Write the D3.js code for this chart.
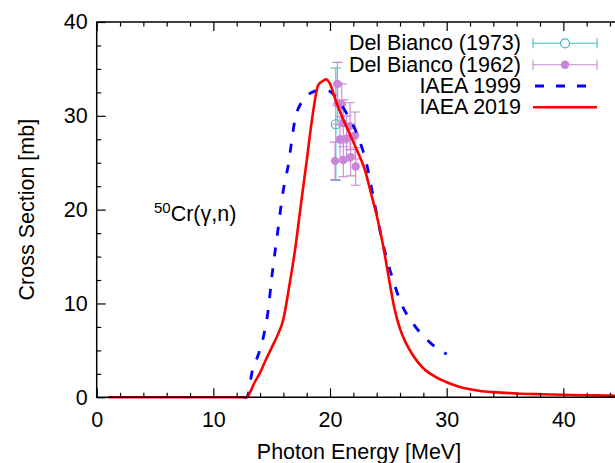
<!DOCTYPE html>
<html>
<head>
<meta charset="utf-8">
<script src="https://cdn.jsdelivr.net/npm/d3@7"></script>
<style>
  html, body { margin: 0; padding: 0; background: #fff; }
  svg { display: block; font-family: "Liberation Sans", Arial, Helvetica, sans-serif; }
</style>
</head>
<body>
<svg id="chart" width="615" height="463"></svg>
<script>
// Photoneutron cross section of 50Cr: evaluations and measurements
const seriesNames = ["Del Bianco (1973)", "Del Bianco (1962)", "IAEA 1999", "IAEA 2019"];

// Del Bianco (1973)
const db73Energy = [20.5];
const db73Sigma  = [29.1];
const db73Err    = [6.0];

// Del Bianco (1962)
const db62Energy = [20.63, 20.66, 21.0, 21.14, 21.71, 20.86, 21.43, 22.14, 20.43, 21.14, 21.77, 22.2];
const db62Sigma  = [33.4, 31.3, 31.2, 29.2, 28.9, 27.5, 27.6, 27.9, 25.2, 25.3, 25.6, 24.6];
const db62Err    = [2.3, 2.2, 2.2, 2.5, 2.5, 2.4, 2.4, 2.5, 2.0, 1.8, 2.0, 2.0];

// IAEA 1999 evaluation
const iaea1999Energy = [12.6, 12.8, 13.0, 13.3, 13.7, 14.3, 14.7, 15.0, 15.5, 16.0, 16.4, 17.0, 17.7, 18.3,
                        19.4, 20.0, 20.9, 21.4, 22.4, 23.15, 23.7, 24.4, 24.9, 25.4, 26.1, 27.1, 28.6, 30.0];
const iaea1999Sigma  = [0.0, 0.0, 0.4, 2.6, 4.0, 6.5, 9.3, 12.7, 17.5, 22.1, 24.6, 29.6, 31.7, 32.4,
                        32.8, 32.6, 31.3, 30.3, 27.8, 24.8, 21.4, 17.1, 14.6, 12.5, 10.0, 7.9, 5.8, 4.6];

// IAEA 2019 evaluation
const iaea2019Energy = [1.0, 12.8, 13.0, 13.5, 14.0, 14.5, 15.0, 15.5, 16.0, 16.5, 17.0, 17.5, 18.0, 18.5,
                        19.0, 19.5, 19.65, 20.0, 20.5, 21.0, 21.5, 22.0, 22.5, 23.0, 23.5, 24.0, 24.5,
                        25.0, 25.5, 26.0, 26.5, 27.0, 27.5, 28.0, 29.0, 30.0, 31.0, 32.0, 33.0, 34.0,
                        35.0, 36.0, 38.0, 40.0, 42.0, 44.0, 46.0, 50.0];
const iaea2019Sigma  = [0.0, 0.0, 0.2, 1.5, 2.6, 4.0, 5.3, 6.6, 8.3, 11.8, 15.7, 20.5, 25.2, 30.0,
                        33.3, 33.8, 33.9, 33.4, 31.6, 30.0, 28.6, 27.2, 25.8, 24.2, 21.8, 19.4, 16.5,
                        13.0, 9.6, 7.3, 5.8, 4.7, 3.8, 3.1, 2.2, 1.6, 1.15, 0.85, 0.65, 0.55,
                        0.47, 0.41, 0.33, 0.27, 0.22, 0.18, 0.15, 0.12];

const xTickValues = [0, 10, 20, 30, 40];
const yTickValues = [0, 10, 20, 30, 40];
const xLabel = "Photon Energy [MeV]";
const yLabel = "Cross Section [mb]";

const colors = { db73: "#3dbcc8", db62: "#c985d8", iaea1999: "#0000ff", iaea2019: "#ff0000" };
const fontSize = 21.5;

const svg = d3.select("#chart");
const plotLeft = 96.7, plotTop = 22, plotBottom = 397.3, plotRight = 680;

const x = d3.scaleLinear().domain([0, 50]).range([plotLeft, plotRight]);
const y = d3.scaleLinear().domain([0, 40]).range([plotBottom, plotTop]);

svg.append("defs").append("clipPath").attr("id", "plotArea")
  .append("rect").attr("x", plotLeft).attr("y", plotTop)
  .attr("width", plotRight - plotLeft).attr("height", plotBottom - plotTop + 2);

const plot = svg.append("g").attr("clip-path", "url(#plotArea)");

// error bars with caps
function drawErrorBars(energy, sigma, err, color) {
  const g = plot.append("g").attr("stroke", color).attr("stroke-width", 1.1).attr("fill", "none");
  energy.forEach((e, i) => {
    const cx = x(e), y1 = y(sigma[i] - err[i]), y2 = y(sigma[i] + err[i]);
    g.append("line").attr("x1", cx).attr("x2", cx).attr("y1", y1).attr("y2", y2);
    g.append("line").attr("x1", cx - 5).attr("x2", cx + 5).attr("y1", y1).attr("y2", y1);
    g.append("line").attr("x1", cx - 5).attr("x2", cx + 5).attr("y1", y2).attr("y2", y2);
  });
  return g;
}

drawErrorBars(db73Energy, db73Sigma, db73Err, colors.db73);
plot.append("g").selectAll("circle").data(db73Energy).join("circle")
  .attr("cx", d => x(d)).attr("cy", (d, i) => y(db73Sigma[i])).attr("r", 4.5)
  .attr("fill", "none").attr("stroke", colors.db73).attr("stroke-width", 1.2);

drawErrorBars(db62Energy, db62Sigma, db62Err, colors.db62);
plot.append("g").selectAll("circle").data(db62Energy).join("circle")
  .attr("cx", d => x(d)).attr("cy", (d, i) => y(db62Sigma[i])).attr("r", 4.2)
  .attr("fill", colors.db62);

const line = d3.line().x(d => x(d[0])).y(d => y(d[1])).curve(d3.curveMonotoneX);

plot.append("path")
  .datum(iaea1999Energy.map((e, i) => [e, iaea1999Sigma[i]]))
  .attr("d", line).attr("fill", "none").attr("stroke", colors.iaea1999)
  .attr("stroke-width", 2.8).attr("stroke-dasharray", "9,12");

plot.append("path")
  .datum(iaea2019Energy.map((e, i) => [e, iaea2019Sigma[i]]))
  .attr("d", line).attr("fill", "none").attr("stroke", colors.iaea2019)
  .attr("stroke-width", 2.6).attr("stroke-linejoin", "round");

// axes: gnuplot-style inward ticks, mirrored on the top border
const axes = svg.append("g").attr("font-size", fontSize);
const xMinorValues = d3.range(0, 50, 2).filter(v => v % 10 !== 0);
const yMinorValues = d3.range(0, 40, 2.5).filter(v => v % 10 !== 0);

axes.append("g").attr("transform", `translate(0,${plotBottom})`)
  .call(d3.axisBottom(x).tickValues(xTickValues).tickSizeInner(-9).tickSizeOuter(0).tickPadding(14));
axes.append("g").attr("transform", `translate(0,${plotBottom})`)
  .call(d3.axisBottom(x).tickValues(xMinorValues).tickSize(-4.5).tickFormat(""));
axes.append("g").attr("transform", `translate(0,${plotTop})`)
  .call(d3.axisTop(x).tickValues(xTickValues).tickSizeInner(-9).tickSizeOuter(0).tickFormat(""));
axes.append("g").attr("transform", `translate(0,${plotTop})`)
  .call(d3.axisTop(x).tickValues(xMinorValues).tickSize(-4.5).tickFormat(""));

axes.append("g").attr("transform", `translate(${plotLeft},0)`)
  .call(d3.axisLeft(y).tickValues(yTickValues).tickSizeInner(-9).tickSizeOuter(0).tickPadding(9));
axes.append("g").attr("transform", `translate(${plotLeft},0)`)
  .call(d3.axisLeft(y).tickValues(yMinorValues).tickSize(-4.5).tickFormat(""));

axes.selectAll(".domain").remove();
axes.selectAll("line").attr("stroke", "#000").attr("stroke-width", 1.2);
axes.selectAll("text").attr("fill", "#000").attr("font-size", fontSize)
  .attr("font-family", "'Liberation Sans', Arial, Helvetica, sans-serif");

// border: left, bottom and top
axes.append("path")
  .attr("d", `M${plotRight},${plotTop}H${plotLeft}V${plotBottom}H${plotRight}`)
  .attr("fill", "none").attr("stroke", "#000").attr("stroke-width", 1.5);

// axis titles
svg.append("text").attr("x", 359).attr("y", 452)
  .attr("text-anchor", "middle").attr("dominant-baseline", "central")
  .attr("font-size", fontSize).text(xLabel);
svg.append("text").attr("transform", `translate(27,${(plotTop + plotBottom) / 2}) rotate(-90)`)
  .attr("text-anchor", "middle").attr("dominant-baseline", "central")
  .attr("font-size", fontSize).text(yLabel);

// reaction label
const reaction = svg.append("text").attr("x", 154).attr("y", 221).attr("font-size", fontSize);
reaction.append("tspan").attr("font-size", 15).attr("dy", -8).text("50");
reaction.append("tspan").attr("dy", 8).text("Cr(γ,n)");

// legend
const legendY = [43.3, 64.7, 86, 107.3];
const legend = svg.append("g").attr("font-size", fontSize);
const sx0 = 533, sx1 = 597, smid = (sx0 + sx1) / 2;
legendY.forEach((ly, i) => {
  legend.append("text").attr("x", 521).attr("y", ly)
    .attr("text-anchor", "end").attr("dominant-baseline", "central").text(seriesNames[i]);
});
[[colors.db73, legendY[0]], [colors.db62, legendY[1]]].forEach(([c, ly]) => {
  const g = legend.append("g").attr("stroke", c).attr("stroke-width", 1.1);
  g.append("line").attr("x1", sx0).attr("x2", sx1).attr("y1", ly).attr("y2", ly);
  g.append("line").attr("x1", sx0).attr("x2", sx0).attr("y1", ly - 5).attr("y2", ly + 5);
  g.append("line").attr("x1", sx1).attr("x2", sx1).attr("y1", ly - 5).attr("y2", ly + 5);
});
legend.append("circle").attr("cx", smid).attr("cy", legendY[0]).attr("r", 4.5)
  .attr("fill", "#fff").attr("stroke", colors.db73).attr("stroke-width", 1.2);
legend.append("circle").attr("cx", smid).attr("cy", legendY[1]).attr("r", 4.2)
  .attr("fill", colors.db62);
legend.append("line").attr("x1", sx0 + 2).attr("x2", sx1).attr("y1", legendY[2]).attr("y2", legendY[2])
  .attr("stroke", colors.iaea1999).attr("stroke-width", 2.8).attr("stroke-dasharray", "9,12");
legend.append("line").attr("x1", sx0).attr("x2", sx1).attr("y1", legendY[3]).attr("y2", legendY[3])
  .attr("stroke", colors.iaea2019).attr("stroke-width", 2.6);
</script>
</body>
</html>
